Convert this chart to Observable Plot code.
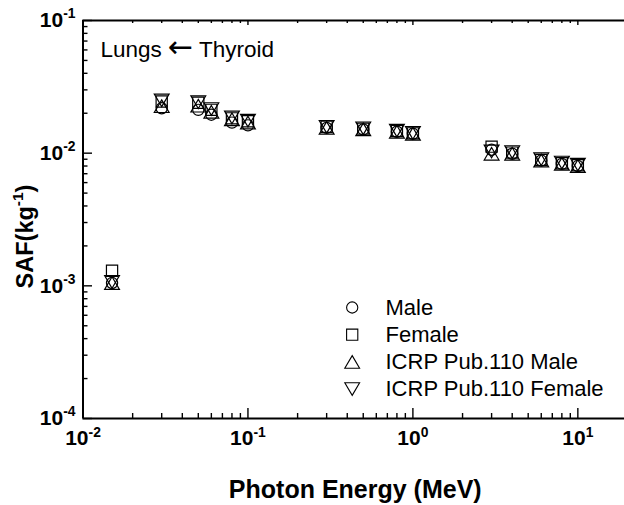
<!DOCTYPE html>
<html>
<head>
<meta charset="utf-8">
<script src="https://cdn.jsdelivr.net/npm/d3@7"></script>
<script src="https://cdn.jsdelivr.net/npm/@observablehq/plot@0.6"></script>
<style>
  html, body { margin: 0; padding: 0; background: #fff; overflow: hidden; }
</style>
</head>
<body>
<div id="chart"></div>
<script>
// Photon energies (MeV)
const energy = [0.015, 0.03, 0.05, 0.06, 0.08, 0.1, 0.3, 0.5, 0.8, 1, 3, 4, 6, 8, 10];

// SAF (kg^-1), Lungs <- Thyroid
const saf_male        = [1.05e-3, 0.0218, 0.0212, 0.0195, 0.0170, 0.0162, 0.0155, 0.0151, 0.0145, 0.0140, 0.0106, 0.0099, 0.0088, 0.0083, 0.0080];
const saf_female      = [1.30e-3, 0.0245, 0.0240, 0.0212, 0.0183, 0.0174, 0.0158, 0.0153, 0.0147, 0.0141, 0.0112, 0.0101, 0.0089, 0.0084, 0.0081];
const saf_icrp_male   = [1.05e-3, 0.0226, 0.0228, 0.0205, 0.0180, 0.0170, 0.0155, 0.0151, 0.0145, 0.0140, 0.0099, 0.0099, 0.0088, 0.0083, 0.0080];
const saf_icrp_female = [1.07e-3, 0.0250, 0.0242, 0.0215, 0.0186, 0.0176, 0.0158, 0.0154, 0.0148, 0.0142, 0.0103, 0.0102, 0.0090, 0.0085, 0.0082];

const seriesNames = ["Male", "Female", "ICRP Pub.110 Male", "ICRP Pub.110 Female"];
const seriesValues = [saf_male, saf_female, saf_icrp_male, saf_icrp_female];

// Axis ticks
const xMajor = [0.01, 0.1, 1, 10];
const xLabels = ["10^-2", "10^-1", "10^0", "10^1"];
const xMinor = [0.01, 0.1, 1, 10].flatMap(d => [2, 3, 4, 5, 6, 7, 8, 9].map(k => k * d)).filter(v => v < 20);
const yMajor = [1e-4, 1e-3, 1e-2, 1e-1];
const yLabels = ["10^-4", "10^-3", "10^-2", "10^-1"];
const yMinor = [1e-4, 1e-3, 1e-2].flatMap(d => [2, 3, 4, 5, 6, 7, 8, 9].map(k => k * d));

const annotation = "Lungs \u2190 Thyroid";
const xTitle = "Photon Energy (MeV)";
const yTitle = "SAF(kg^-1)";

// Open marker shapes, drawn at fixed pixel sizes
const symCircle = {draw(c) { c.moveTo(5.6, 0); c.arc(0, 0, 5.6, 0, 2 * Math.PI); }};
const symSquare = {draw(c) { c.rect(-5.6, -5.6, 11.2, 11.2); }};
const symUp     = {draw(c) { c.moveTo(0, -6.3); c.lineTo(7.4, 6.3); c.lineTo(-7.4, 6.3); c.closePath(); }};
const symDown   = {draw(c) { c.moveTo(0, 6.3); c.lineTo(7.4, -6.3); c.lineTo(-7.4, -6.3); c.closePath(); }};
const symbols = [symCircle, symSquare, symUp, symDown];

const W = 624, H = 505;
const margin = {top: 20, right: -3, bottom: 87, left: 82.5};
const frameW = W - margin.left - margin.right;
const frameH = H - margin.top - margin.bottom;

const rows = seriesNames.map((name, s) =>
  energy.map((e, i) => ({energy: e, saf: seriesValues[s][i], series: name})));

const fmt = (labels, ticks) => d => labels[ticks.indexOf(d)];
const tickStyle = {stroke: "#000", strokeWidth: 1.4};

const legendTop = 287, legendStep = 27.2;

const chart = Plot.plot({
  width: W,
  height: H,
  marginTop: margin.top,
  marginRight: margin.right,
  marginBottom: margin.bottom,
  marginLeft: margin.left,
  style: {fontFamily: "'Liberation Sans', Arial, 'DejaVu Sans', sans-serif", background: "#fff", color: "#000"},
  x: {type: "log", domain: [0.01, 20]},
  y: {type: "log", domain: [1e-4, 1e-1]},
  marks: [
    // tick labels
    Plot.axisX(xMajor, {tickSize: 0, tickPadding: 12, tickFormat: fmt(xLabels, xMajor), fontSize: 21, fontWeight: "bold", label: null}),
    Plot.axisY(yMajor, {tickSize: 0, tickPadding: 7.5, tickFormat: fmt(yLabels, yMajor), fontSize: 21, fontWeight: "bold", label: null}),
    // inward ticks: bottom
    Plot.tickX(xMajor, {x: d => d, insetTop: frameH - 10, ...tickStyle}),
    Plot.tickX(xMinor, {x: d => d, insetTop: frameH - 5, ...tickStyle}),
    // top
    Plot.tickX(xMajor, {x: d => d, insetBottom: frameH - 5, ...tickStyle}),
    Plot.tickX(xMinor, {x: d => d, insetBottom: frameH - 3, ...tickStyle}),
    // left
    Plot.tickY(yMajor, {y: d => d, insetRight: frameW - 9.5, ...tickStyle}),
    Plot.tickY(yMinor, {y: d => d, insetRight: frameW - 5, ...tickStyle}),
    // axis frame
    Plot.ruleX([0.01, 20], {x: d => d, stroke: "#000", strokeWidth: 2}),
    Plot.ruleY([1e-4, 1e-1], {y: d => d, stroke: "#000", strokeWidth: 2}),
    // data
    ...rows.map((r, s) => Plot.dot(r, {x: "energy", y: "saf", symbol: symbols[s], stroke: "#000", fill: "none", strokeWidth: 1.2})),
    // legend
    ...seriesNames.map((name, s) => Plot.dot([name], {frameAnchor: "top-left", dx: 269.2, dy: legendTop + s * legendStep, symbol: symbols[s], stroke: "#000", fill: "none", strokeWidth: 1.1})),
    ...seriesNames.map((name, s) => Plot.text([name], {frameAnchor: "top-left", dx: 302.5, dy: legendTop + s * legendStep, text: d => d, textAnchor: "start", lineAnchor: "middle", fontSize: 22})),
    // annotation
    Plot.text([annotation], {frameAnchor: "top-left", dx: 17.5, dy: 29, text: d => d, textAnchor: "start", lineAnchor: "middle", fontSize: 22.5}),
    // axis titles
    Plot.text([xTitle], {frameAnchor: "bottom", dy: 71, text: d => d, lineAnchor: "middle", fontSize: 25, fontWeight: "bold"}),
    Plot.text([yTitle], {frameAnchor: "left", dx: -57.5, dy: 17, text: d => d, rotate: -90, textAnchor: "middle", lineAnchor: "middle", fontSize: 23.5, fontWeight: "bold"})
  ]
});

document.getElementById("chart").appendChild(chart);

const texts = d3.select(chart).selectAll("text");

// Render "a^b" strings as a base followed by a raised, smaller exponent
texts.each(function () {
  const t = this.textContent;
  if (!t.includes("^")) return;
  const size = parseFloat(getComputedStyle(this).fontSize) || 21;
  const raise = size * 0.42;
  const parts = t.split(/\^(-?\d+)/);
  const sel = d3.select(this);
  sel.text(null);
  parts.forEach((p, i) => {
    if (p === "") return;
    if (i % 2 === 1) {
      sel.append("tspan").attr("dy", -raise).attr("font-size", size * 0.66).text(p);
    } else {
      const ts = sel.append("tspan").text(p);
      if (i > 0) ts.attr("dy", raise);
    }
  });
});

// Give the annotation arrow a wider glyph
texts.each(function () {
  const t = this.textContent;
  if (!t.includes("\u2190")) return;
  const [a, b] = t.split("\u2190");
  const sel = d3.select(this);
  sel.text(null);
  sel.append("tspan").text(a);
  sel.append("tspan").attr("font-family", "'DejaVu Sans', sans-serif").attr("font-size", 30).text("\u2190");
  sel.append("tspan").text(b);
});
</script>
</body>
</html>
